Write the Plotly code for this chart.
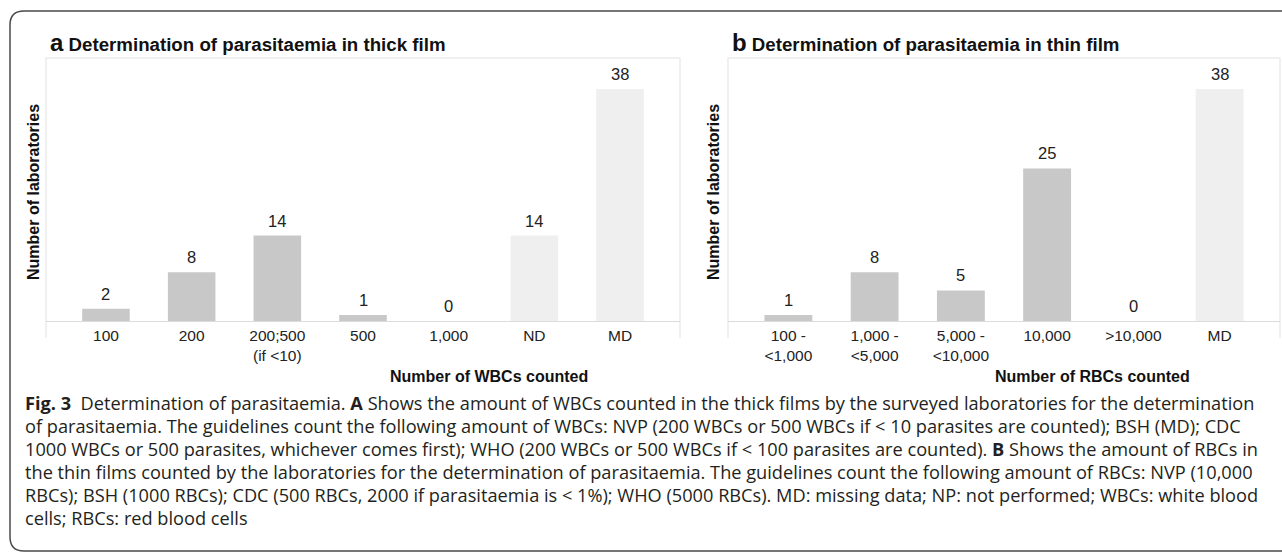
import plotly.graph_objects as go

W, H = 1282, 555

# ---- data ----
wbc_labels = ["100", "200", "200;500<br>(if &lt;10)", "500", "1,000", "ND", "MD"]
wbc_counts = [2, 8, 14, 1, 0, 14, 38]

rbc_labels = ["100 -<br>&lt;1,000", "1,000 -<br>&lt;5,000", "5,000 -<br>&lt;10,000",
              "10,000", "&gt;10,000", "MD"]
rbc_counts = [1, 8, 5, 25, 0, 38]

missing_labels = ["ND", "MD"]

title_a = "<b><span style='font-size:24px'>a</span> Determination of parasitaemia in thick film</b>"
title_b = "<b><span style='font-size:24px'>b</span> Determination of parasitaemia in thin film</b>"
xtitle_a = "<b>Number of WBCs counted</b>"
xtitle_b = "<b>Number of RBCs counted</b>"
ytitle = "<b>Number of laboratories</b>"

caption_lines = [
    "<b>Fig. 3</b>&nbsp;&nbsp;Determination of parasitaemia. <b>A</b> Shows the amount of WBCs counted in the thick films by the surveyed laboratories for the determination",
    "of parasitaemia. The guidelines count the following amount of WBCs: NVP (200 WBCs or 500 WBCs if &lt; 10 parasites are counted); BSH (MD); CDC",
    "1000 WBCs or 500 parasites, whichever comes first); WHO (200 WBCs or 500 WBCs if &lt; 100 parasites are counted). <b>B</b> Shows the amount of RBCs in",
    "the thin films counted by the laboratories for the determination of parasitaemia. The guidelines count the following amount of RBCs: NVP (10,000",
    "RBCs); BSH (1000 RBCs); CDC (500 RBCs, 2000 if parasitaemia is &lt; 1%); WHO (5000 RBCs). MD: missing data; NP: not performed; WBCs: white blood",
    "cells; RBCs: red blood cells",
]

# ---- styling ----
BAR = "#c8c8c8"
BAR_MISSING = "#efefef"
TXT = "#222222"
CHART_FONT = "Liberation Sans, Arial, sans-serif"
CAP_FONT = "Open Sans, sans-serif"


def px(x):
    return x / W


def py(y):
    return 1 - y / H


def colors(labels):
    return [BAR_MISSING if l in missing_labels else BAR for l in labels]


fig = go.Figure()
fig.add_trace(go.Bar(x=wbc_labels, y=wbc_counts, marker=dict(color=colors(wbc_labels), line=dict(width=0)),
                     xaxis="x", yaxis="y", hoverinfo="skip"))
fig.add_trace(go.Bar(x=rbc_labels, y=rbc_counts, marker=dict(color=colors(rbc_labels), line=dict(width=0)),
                     xaxis="x2", yaxis="y2", hoverinfo="skip"))

plot_top, plot_bot = 58, 321
ax_a = (46, 680)
ax_b = (728, 1280)

xa_common = dict(type="category", showline=True, linecolor="#dcdcdc", linewidth=1, ticks="",
                 showgrid=False, zeroline=False, fixedrange=True,
                 tickfont=dict(family=CHART_FONT, size=15.5, color=TXT))
ya_common = dict(visible=False, range=[0, 43.1], fixedrange=True,
                 domain=[py(plot_bot), py(plot_top)])

annotations = []
for labels, counts, xr, yr in [(wbc_labels, wbc_counts, "x", "y"), (rbc_labels, rbc_counts, "x2", "y2")]:
    for i, v in enumerate(counts):
        annotations.append(dict(x=i, y=v, xref=xr, yref=yr, text=str(v), showarrow=False,
                                yanchor="bottom", yshift=4,
                                font=dict(family=CHART_FONT, size=16.5, color=TXT)))

for t, x in [(title_a, 48), (title_b, 730)]:
    annotations.append(dict(x=px(x), y=py(58), xref="paper", yref="paper", text=t, showarrow=False,
                            xanchor="left", yanchor="bottom",
                            font=dict(family=CHART_FONT, size=18.7, color="#111")))
for x in [33, 713]:
    annotations.append(dict(x=px(x), y=py(192), xref="paper", yref="paper", text=ytitle, showarrow=False,
                            textangle=-90, xanchor="center", yanchor="middle",
                            font=dict(family=CHART_FONT, size=16, color="#111")))
for t, x in [(xtitle_a, 489), (xtitle_b, 1092)]:
    annotations.append(dict(x=px(x), y=py(376), xref="paper", yref="paper", text=t, showarrow=False,
                            xanchor="center", yanchor="middle",
                            font=dict(family=CHART_FONT, size=16, color="#111")))

for i, line in enumerate(caption_lines):
    annotations.append(dict(x=px(23), y=py(403 + 23 * i), xref="paper", yref="paper", text=line,
                            showarrow=False, xanchor="left", yanchor="middle",
                            font=dict(family=CAP_FONT, size=18.2, color="#231f20")))

shapes = []
for x0, x1 in [ax_a, ax_b]:
    path = "M {a},{b} L {a},{c} L {d},{c} L {d},{b}".format(a=px(x0), b=py(338), c=py(plot_top), d=px(x1))
    shapes.append(dict(type="path", path=path, xref="paper", yref="paper",
                       line=dict(color="#ececec", width=1.5), layer="below"))

r = 14
border = ("M {x9},{t} L {xl_r},{t} Q {xl},{t} {xl},{t_r} L {xl},{b_r} Q {xl},{b} {xl_r},{b} L {x9},{b}").format(
    x9=px(1300), t=py(11), xl_r=px(10 + r), xl=px(10), t_r=py(11 + r), b_r=py(551 - r), b=py(551))
shapes.append(dict(type="path", path=border, xref="paper", yref="paper",
                   line=dict(color="#4a4a4a", width=1.5)))

fig.update_layout(
    width=W, height=H, margin=dict(l=0, r=0, t=0, b=0),
    paper_bgcolor="white", plot_bgcolor="white", showlegend=False, bargap=0.445,
    xaxis=dict(xa_common, domain=[px(ax_a[0]), px(ax_a[1])], range=[-0.7, 6.7], anchor="y"),
    xaxis2=dict(xa_common, domain=[px(ax_b[0]), px(ax_b[1])], range=[-0.7, 5.7], anchor="y2"),
    yaxis=dict(ya_common, anchor="x"),
    yaxis2=dict(ya_common, anchor="x2"),
    annotations=annotations, shapes=shapes,
)

fig.write_html("out.html", config={"displayModeBar": False},
               post_script="document.body.style.margin='0';document.body.style.overflow='hidden';")
